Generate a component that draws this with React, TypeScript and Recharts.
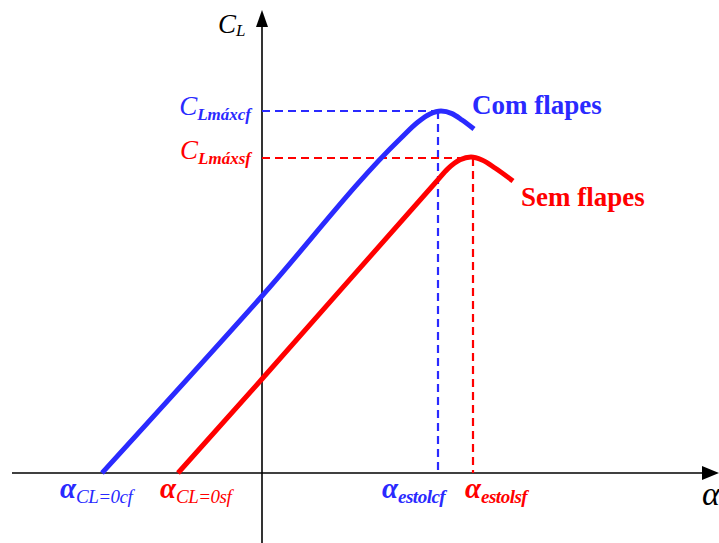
// App.tsx
import React from "react";
import {
  ComposedChart,
  Line,
  XAxis,
  YAxis,
  ReferenceLine,
  ReferenceDot,
} from "recharts";

// angle of attack (deg) and lift coefficient
const alphaCF = [-8.0, 0, 6.9, 7.8, 8.4, 8.95, 9.5, 10.0, 10.6];
const clCF = [0, 0.885, 1.67, 1.755, 1.795, 1.81, 1.797, 1.765, 1.72];
const alphaSF = [-4.2, 0, 8.7, 9.3, 9.9, 10.45, 11.0, 11.65, 12.55];
const clSF = [0, 0.47, 1.455, 1.522, 1.566, 1.58, 1.565, 1.525, 1.46];

const clMaxCF = 1.81;
const clMaxSF = 1.575;
const alphaStallCF = 8.8;
const alphaStallSF = 10.55;

const X_DOMAIN: [number, number] = [-13.1, 22.85];
const Y_DOMAIN: [number, number] = [-0.35, 2.365];
const X_AXIS_START = -12.5;
const Y_AXIS_START = -0.35;
const X_TIP = 22.85;
const Y_TIP = 2.315;

const BLUE = "#2a2aff";
const RED = "#ff0000";
const SERIF = "'Liberation Serif', 'Times New Roman', serif";

const blueData = alphaCF.map((a, i) => ({ a, cl: clCF[i] }));
const redData = alphaSF.map((a, i) => ({ a, cl: clSF[i] }));

// draws a piece of text offset from the reference point
const textAt =
  (dx: number, dy: number, node: React.ReactNode, extra: any = {}) =>
  (props: any) =>
    (
      <text
        x={props.cx + dx}
        y={props.cy + dy}
        fontFamily={SERIF}
        {...extra}
      >
        {node}
      </text>
    );

const alphaLabel = (sub: string, color: string, boldSub: boolean) => (
  <>
    <tspan fontSize={29} fontStyle="italic" fontWeight="bold" fill={color}>
      α
    </tspan>
    <tspan
      fontSize={19}
      fontStyle="italic"
      fontWeight={boldSub ? "bold" : "normal"}
      fill={color}
      dy={5}
      letterSpacing={-0.5}
    >
      {sub}
    </tspan>
  </>
);

const clLabel = (sub: string, color: string) => (
  <>
    <tspan fontSize={27} fontStyle="italic" fill={color}>
      C
    </tspan>
    <tspan fontSize={17} fontStyle="italic" fontWeight="bold" fill={color} dy={5}>
      {sub}
    </tspan>
  </>
);

const arrowUp = (props: any) => (
  <polygon
    points={`${props.cx},${props.cy} ${props.cx - 6},${props.cy + 17} ${props.cx + 6},${props.cy + 17}`}
    fill="#000"
  />
);

const arrowRight = (props: any) => (
  <polygon
    points={`${props.cx},${props.cy} ${props.cx - 17},${props.cy - 7} ${props.cx - 17},${props.cy + 7}`}
    fill="#000"
  />
);

export default function App() {
  return (
    <div style={{ position: "absolute", left: 0, top: 0, background: "#fff" }}>
      <ComposedChart
        width={719}
        height={543}
        margin={{ top: 0, right: 0, bottom: 0, left: 0 }}
      >
        <XAxis
          dataKey="a"
          type="number"
          domain={X_DOMAIN}
          allowDataOverflow
          hide
        />
        <YAxis type="number" domain={Y_DOMAIN} allowDataOverflow hide />

        {/* axes */}
        <ReferenceLine
          segment={[
            { x: X_AXIS_START, y: 0 },
            { x: X_TIP - 0.5, y: 0 },
          ]}
          stroke="#000"
          strokeWidth={1.6}
          ifOverflow="visible"
        />
        <ReferenceLine
          segment={[
            { x: 0, y: Y_AXIS_START },
            { x: 0, y: Y_TIP - 0.05 },
          ]}
          stroke="#000"
          strokeWidth={1.6}
          ifOverflow="visible"
        />
        <ReferenceDot x={0} y={Y_TIP} r={0} shape={arrowUp} ifOverflow="visible" />
        <ReferenceDot x={X_TIP} y={0} r={0} shape={arrowRight} ifOverflow="visible" />

        {/* dashed guides */}
        <ReferenceLine
          segment={[
            { x: 0, y: clMaxCF },
            { x: alphaStallCF, y: clMaxCF },
          ]}
          stroke={BLUE}
          strokeWidth={2.2}
          strokeDasharray="8 5"
        />
        <ReferenceLine
          segment={[
            { x: alphaStallCF, y: clMaxCF },
            { x: alphaStallCF, y: 0 },
          ]}
          stroke={BLUE}
          strokeWidth={2.2}
          strokeDasharray="8 5"
        />
        <ReferenceLine
          segment={[
            { x: 0, y: clMaxSF },
            { x: 10.45, y: clMaxSF },
          ]}
          stroke={RED}
          strokeWidth={2.2}
          strokeDasharray="8 5"
        />
        <ReferenceLine
          segment={[
            { x: alphaStallSF, y: clMaxSF },
            { x: alphaStallSF, y: 0 },
          ]}
          stroke={RED}
          strokeWidth={2.2}
          strokeDasharray="8 5"
        />

        <Line
          data={blueData}
          dataKey="cl"
          type="monotone"
          stroke={BLUE}
          strokeWidth={5}
          dot={false}
          activeDot={false}
          isAnimationActive={false}
        />
        <Line
          data={redData}
          dataKey="cl"
          type="monotone"
          stroke={RED}
          strokeWidth={5}
          dot={false}
          activeDot={false}
          isAnimationActive={false}
        />

        {/* axis titles */}
        <ReferenceDot
          x={0}
          y={Y_TIP}
          r={0}
          ifOverflow="visible"
          shape={textAt(
            -44,
            23,
            <>
              <tspan fontSize={27} fontStyle="italic">
                C
              </tspan>
              <tspan fontSize={17} fontStyle="italic" dy={3}>
                L
              </tspan>
            </>
          )}
        />
        <ReferenceDot
          x={X_TIP}
          y={0}
          r={0}
          ifOverflow="visible"
          shape={textAt(
            -17,
            32,
            <tspan fontSize={34} fontStyle="italic">
              α
            </tspan>
          )}
        />

        {/* CLmax labels */}
        <ReferenceDot
          x={0}
          y={clMaxCF}
          r={0}
          shape={textAt(-11, 4, clLabel("Lmáxcf", BLUE), { textAnchor: "end" })}
        />
        <ReferenceDot
          x={0}
          y={clMaxSF}
          r={0}
          shape={textAt(-11, 1, clLabel("Lmáxsf", RED), { textAnchor: "end" })}
        />

        {/* series names */}
        <ReferenceDot
          x={alphaCF[alphaCF.length - 1]}
          y={clCF[clCF.length - 1]}
          r={0}
          shape={textAt(-2, -15, "Com flapes", {
            fontSize: 27,
            fontWeight: "bold",
            fill: BLUE,
          })}
        />
        <ReferenceDot
          x={alphaSF[alphaSF.length - 1]}
          y={clSF[clSF.length - 1]}
          r={0}
          shape={textAt(8, 25, "Sem flapes", {
            fontSize: 27,
            fontWeight: "bold",
            fill: RED,
          })}
        />

        {/* alpha labels on the horizontal axis */}
        <ReferenceDot
          x={alphaCF[0]}
          y={0}
          r={0}
          shape={textAt(-42, 25, alphaLabel("CL=0cf", BLUE, false))}
        />
        <ReferenceDot
          x={alphaSF[0]}
          y={0}
          r={0}
          shape={textAt(-18, 25, alphaLabel("CL=0sf", RED, false))}
        />
        <ReferenceDot
          x={alphaStallCF}
          y={0}
          r={0}
          shape={textAt(-56, 25, alphaLabel("estolcf", BLUE, true))}
        />
        <ReferenceDot
          x={alphaStallSF}
          y={0}
          r={0}
          shape={textAt(-8, 25, alphaLabel("estolsf", RED, true))}
        />
      </ComposedChart>
    </div>
  );
}
